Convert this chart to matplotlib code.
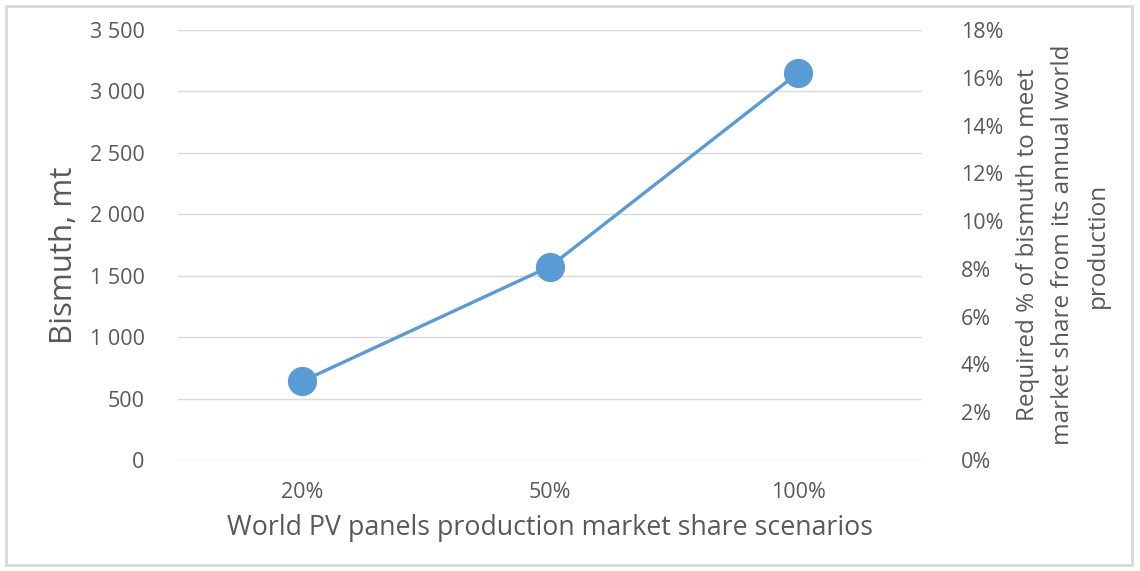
import matplotlib
matplotlib.use("Agg")
import matplotlib.pyplot as plt
from matplotlib.ticker import FuncFormatter
from matplotlib.patches import Rectangle

categories = ["20%", "50%", "100%"]
bismuth_mt = [640, 1575, 3150]
left_ticks = [0, 500, 1000, 1500, 2000, 2500, 3000, 3500]
right_ticks = [0, 2, 4, 6, 8, 10, 12, 14, 16, 18]

plt.rcParams['font.family'] = ['Open Sans', 'DejaVu Sans']
gray = '#595959'
blue = '#5B9BD5'

fig = plt.figure(figsize=(11.4, 5.71), dpi=100)
ax = fig.add_axes([178/1140, 1-460/571, (922-178)/1140, (460-30)/571])
fig.patches.append(Rectangle((6/1140, 6/571), 1-14/1140, 1-12/571, transform=fig.transFigure,
                             fill=False, edgecolor='#D9D9D9', linewidth=2))

x = list(range(len(categories)))
ax.plot(x, bismuth_mt, color=blue, linewidth=2.4, marker='o', markersize=20,
        markerfacecolor=blue, markeredgecolor=blue, zorder=3)
ax.set_xlim(-0.5, len(categories)-0.5)
ax.set_ylim(0, 3500)
ax.set_yticks(left_ticks)
ax.yaxis.set_major_formatter(FuncFormatter(lambda v, p: f"{int(v):,}".replace(",", " ")))
ax.set_xticks(x)
ax.set_xticklabels(categories)
ax.grid(axis='y', color='#D9D9D9', linewidth=1)
ax.set_axisbelow(True)
for s in ax.spines.values():
    s.set_visible(False)
ax.tick_params(axis='both', length=0, labelsize=15.5, colors=gray)
ax.tick_params(axis='y', pad=24)
ax.tick_params(axis='x', pad=16)
ax.set_xlabel("World PV panels production market share scenarios", fontsize=19.3, color=gray, labelpad=8)
ax.set_ylabel("Bismuth, mt", fontsize=22.5, color=gray)
ax.yaxis.set_label_coords(-0.133, 0.475)

ax2 = ax.twinx()
ax2.set_ylim(0, 18)
ax2.set_yticks(right_ticks)
ax2.yaxis.set_major_formatter(FuncFormatter(lambda v, p: f"{int(v)}%"))
for s in ax2.spines.values():
    s.set_visible(False)
ax2.tick_params(axis='y', length=0, labelsize=15.5, colors=gray, pad=28)
ax2.set_ylabel("Required % of bismuth to meet\nmarket share from its annual world\nproduction",
               fontsize=17.5, color=gray, labelpad=9, linespacing=1.6)

fig.savefig("out.png", dpi=100)
